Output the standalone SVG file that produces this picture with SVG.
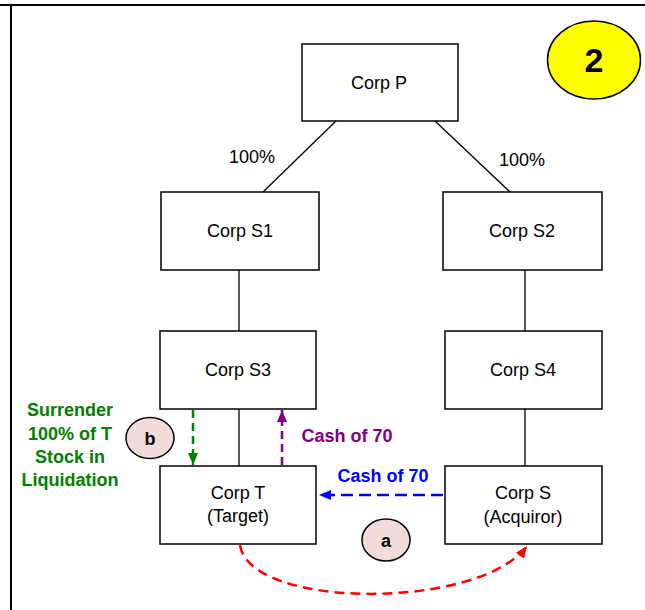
<svg xmlns="http://www.w3.org/2000/svg" width="645" height="610" viewBox="0 0 645 610">
<style>
.box{fill:#fff;stroke:#000;stroke-width:1.5}
.t{font-family:"Liberation Sans",Arial,sans-serif;font-size:18px;fill:#000;text-anchor:middle}
.b{font-family:"Liberation Sans",Arial,sans-serif;font-weight:bold;font-size:18px;text-anchor:middle}
.ln{stroke:#000;stroke-width:1.3;fill:none}
.tag{fill:#f2dcdb;stroke:#000;stroke-width:1.5}
</style>
<defs>
<marker id="ag" viewBox="0 0 12 10" refX="12" refY="5" markerWidth="12" markerHeight="10" orient="auto" markerUnits="userSpaceOnUse"><path d="M0,0 L12,5 L0,10 z" fill="#008000"/></marker>
<marker id="ap" viewBox="0 0 12 10" refX="12" refY="5" markerWidth="12" markerHeight="10" orient="auto" markerUnits="userSpaceOnUse"><path d="M0,0 L12,5 L0,10 z" fill="#800080"/></marker>
<marker id="ab" viewBox="0 0 12 10" refX="12" refY="5" markerWidth="12" markerHeight="10" orient="auto" markerUnits="userSpaceOnUse"><path d="M0,0 L12,5 L0,10 z" fill="#0000ff"/></marker>
<marker id="ar" viewBox="0 0 12 10" refX="12" refY="5" markerWidth="12" markerHeight="10" orient="auto" markerUnits="userSpaceOnUse"><path d="M0,0 L12,5 L0,10 z" fill="#ff0000"/></marker>
</defs>
<rect width="645" height="610" fill="#fff"/>
<line x1="0" y1="5" x2="645" y2="5" stroke="#000" stroke-width="2"/>
<line x1="11" y1="5" x2="11" y2="610" stroke="#000" stroke-width="2"/>

<g id="connectors">
<line class="ln" x1="336" y1="121" x2="263" y2="192"/>
<line class="ln" x1="435" y1="121" x2="510" y2="192"/>
<line class="ln" x1="239" y1="270" x2="239" y2="331"/>
<line class="ln" x1="525" y1="270" x2="525" y2="331"/>
<line class="ln" x1="239" y1="409" x2="239" y2="466"/>
<line class="ln" x1="525" y1="409" x2="525" y2="466"/>
<text class="t" x="252" y="163">100%</text>
<text class="t" x="522" y="166">100%</text>
<line x1="193" y1="410" x2="193" y2="465" stroke="#008000" stroke-width="2.5" stroke-dasharray="8,5" marker-end="url(#ag)"/>
<line x1="282" y1="465" x2="282" y2="410" stroke="#800080" stroke-width="2.5" stroke-dasharray="8,5" marker-end="url(#ap)"/>
<line x1="443" y1="495" x2="319" y2="495" stroke="#0000ff" stroke-width="2.5" stroke-dasharray="12,6" marker-end="url(#ab)"/>
<path d="M240,545 C250,610 480,610 527,546" fill="none" stroke="#ff0000" stroke-width="2.5" stroke-dasharray="10,6" marker-end="url(#ar)"/>
<text class="b" x="70" y="416" fill="#008000">Surrender</text>
<text class="b" x="70" y="440" fill="#008000">100% of T</text>
<text class="b" x="70" y="463" fill="#008000">Stock in</text>
<text class="b" x="70" y="486" fill="#008000">Liquidation</text>
<text class="b" x="347" y="442" fill="#800080">Cash of 70</text>
<text class="b" x="383" y="482" fill="#0000ff">Cash of 70</text>
</g>

<g id="corpP"><rect class="box" x="302" y="44" width="156" height="77"/><text class="t" x="379" y="89">Corp P</text></g>
<g id="corpS1"><rect class="box" x="161" y="192" width="158" height="78"/><text class="t" x="240" y="237">Corp S1</text></g>
<g id="corpS2"><rect class="box" x="443" y="192" width="159" height="78"/><text class="t" x="522" y="237">Corp S2</text></g>
<g id="corpS3"><rect class="box" x="160" y="331" width="156" height="78"/><text class="t" x="238" y="376">Corp S3</text></g>
<g id="corpS4"><rect class="box" x="445" y="331" width="157" height="78"/><text class="t" x="523" y="376">Corp S4</text></g>
<g id="corpT"><rect class="box" x="160" y="466" width="156" height="78"/><text class="t" x="238" y="499">Corp T</text><text class="t" x="238" y="522">(Target)</text></g>
<g id="corpS"><rect class="box" x="445" y="466" width="157" height="78"/><text class="t" x="523" y="499">Corp S</text><text class="t" x="523" y="523">(Acquiror)</text></g>
<g id="tagB"><ellipse class="tag" cx="150" cy="438" rx="24" ry="20.5"/><text class="b" x="150" y="445" fill="#000">b</text></g>
<g id="tagA"><ellipse class="tag" cx="386" cy="540" rx="24" ry="21"/><text class="b" x="386" y="547" fill="#000">a</text></g>
<g id="badge2"><ellipse cx="594" cy="60" rx="46.5" ry="39" fill="#ffff00" stroke="#000" stroke-width="1.5"/><text class="b" x="594" y="72" fill="#000" style="font-size:34px">2</text></g>
</svg>
